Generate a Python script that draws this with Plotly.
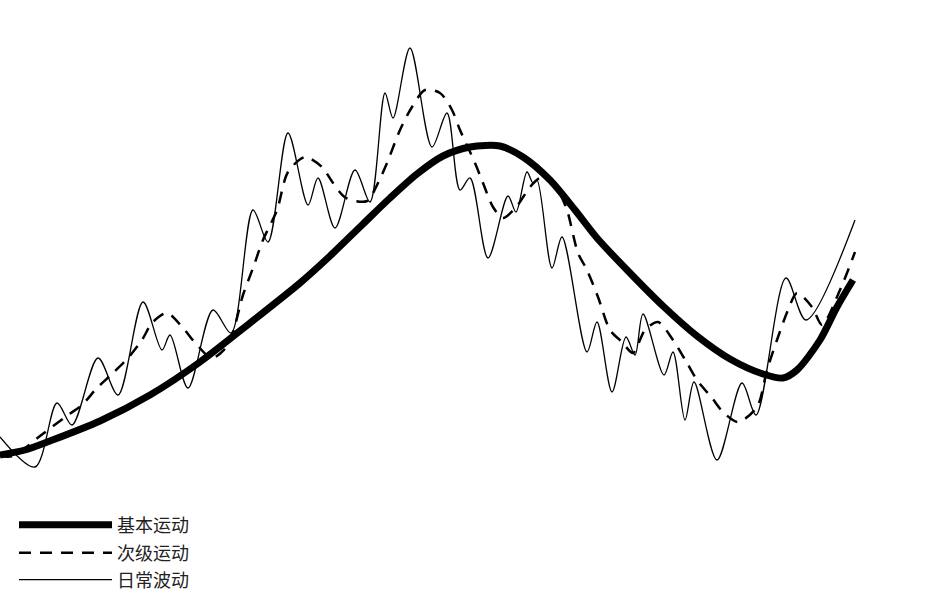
import plotly.graph_objects as go

# Primary movement (基本运动) - time index vs price level
primary_t = [0, 25, 50, 100, 150, 200, 250, 300, 330, 363, 390, 417, 443, 470, 500, 523, 550, 575,
             597, 630, 663, 697, 730, 763, 783, 797, 820, 837, 853]
primary_v = [141, 146, 155, 175, 201, 234, 273, 313, 340, 372, 398, 422, 440, 449, 450, 439, 416, 386,
             358, 323, 290, 260, 237, 222, 218, 226, 256, 289, 316]

# Secondary movement (次级运动)
secondary_t = [0, 13, 40, 68, 82, 97, 113, 128, 142, 152, 167, 183, 197, 212, 228, 243, 253, 263, 277,
               288, 305, 322, 333, 346, 367, 378, 387, 400, 412, 425, 440, 452, 460, 475, 483, 493, 503,
               517, 530, 540, 550, 558, 567, 578, 587, 598, 610, 622, 633, 645, 658, 673, 687, 697, 712,
               723, 738, 757, 767, 777, 788, 797, 812, 822, 840, 855]
secondary_v = [140, 140, 160, 181, 191, 208, 223, 238, 256, 273, 283, 268, 251, 238, 251, 301, 328, 356, 386,
               424, 439, 429, 413, 398, 395, 413, 433, 466, 489, 506, 503, 486, 466, 433, 413, 389, 378,
               390, 409, 418, 416, 406, 386, 343, 326, 299, 266, 254, 243, 266, 274, 256, 233, 216, 198,
               184, 174, 189, 226, 256, 286, 303, 289, 271, 306, 344]

# Daily fluctuations (日常波动)
daily_t = [0, 35, 57, 72, 98, 118, 143, 162, 170, 188, 213, 231, 253, 268, 288, 308, 318, 335, 355, 370,
           385, 393, 410, 432, 447, 460, 470, 488, 508, 516, 527, 533, 537, 552, 562, 587, 597, 612, 626,
           635, 643, 664, 673, 685, 694, 717, 742, 756, 786, 806, 855]
daily_v = [159, 129, 193, 171, 238, 201, 294, 246, 261, 208, 286, 263, 386, 354, 463, 391, 418, 368, 426, 394,
           503, 478, 548, 449, 483, 406, 418, 338, 400, 384, 424, 413, 416, 328, 359, 244, 274, 204, 259,
           241, 282, 221, 244, 176, 214, 136, 213, 181, 318, 276, 376]

names = ["基本运动", "次级运动", "日常波动"]

W, H = 926, 596
fig = go.Figure()

fig.add_trace(go.Scatter(x=primary_t, y=primary_v, mode="lines", name=names[0],
                         line=dict(color="black", width=7, shape="spline", smoothing=0.8),
                         legend="legend"))
fig.add_trace(go.Scatter(x=secondary_t, y=secondary_v, mode="lines", name=names[1],
                         line=dict(color="black", width=2.5, dash="12px,9px", shape="spline", smoothing=0.8),
                         legend="legend2"))
fig.add_trace(go.Scatter(x=daily_t, y=daily_v, mode="lines", name=names[2],
                         line=dict(color="black", width=1.3, shape="spline", smoothing=0.9),
                         legend="legend3"))

legend_font = dict(family="Noto Sans CJK SC", size=18, color="#222")

def lg(center_px):
    return dict(x=14 / W, y=1 - center_px / H, xanchor="left", yanchor="middle",
                font=legend_font, itemwidth=93, bgcolor="rgba(0,0,0,0)",
                borderwidth=0, itemclick=False, itemdoubleclick=False)

fig.update_layout(
    width=W, height=H,
    margin=dict(l=0, r=0, t=0, b=0, autoexpand=False),
    paper_bgcolor="white", plot_bgcolor="white",
    xaxis=dict(range=[0, W], visible=False, fixedrange=True),
    yaxis=dict(range=[0, H], visible=False, fixedrange=True),
    showlegend=True,
    legend=lg(525),
    legend2=lg(553),
    legend3=lg(580),
)

fig.write_html("out.html", config={"displayModeBar": False},
               post_script="document.body.style.margin='0';")
